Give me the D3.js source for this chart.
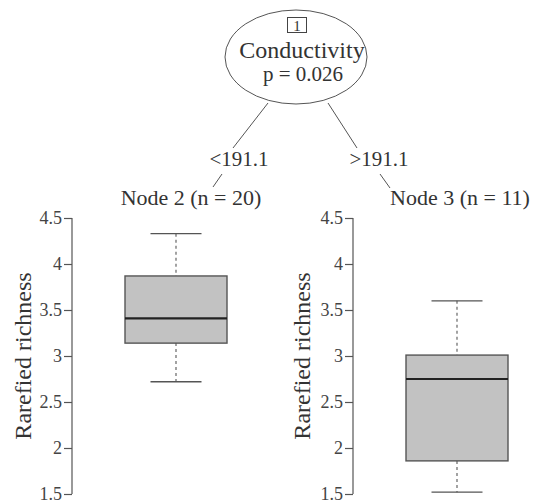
<!DOCTYPE html>
<html><head><meta charset="utf-8">
<script src="https://cdn.jsdelivr.net/npm/d3@7"></script>
<style>body{margin:0;background:#fff}svg{display:block}text{font-family:"Liberation Serif","Times New Roman",serif}</style>
</head><body>
<script>
// Data
const splitVariable = "Conductivity";
const splitP = "p = 0.026";
const splitLabels = ["<191.1", ">191.1"];
const nodeLabels = ["Node 2 (n = 20)", "Node 3 (n = 11)"];
const yTicks = [1.5, 2, 2.5, 3, 3.5, 4, 4.5];
const yLabel = "Rarefied richness";
// box stats: lower whisker, Q1, median, Q3, upper whisker
const node2Stats = [2.72, 3.14, 3.41, 3.87, 4.33];
const node3Stats = [1.52, 1.86, 2.75, 3.01, 3.60];

const W = 538, H = 504;
const svg = d3.select("body").append("svg").attr("width", W).attr("height", H);

const y = d3.scaleLinear().domain([1.5, 4.5]).range([494, 218]);

// Tree top
svg.append("ellipse").attr("cx", 296).attr("cy", 57).attr("rx", 71).attr("ry", 47)
  .attr("fill", "#fff").attr("stroke", "#555").attr("stroke-width", 1);
svg.append("rect").attr("x", 287.5).attr("y", 17.5).attr("width", 19).attr("height", 15)
  .attr("fill", "none").attr("stroke", "#444").attr("stroke-width", 1);
svg.append("text").attr("x", 297).attr("y", 30.5).attr("text-anchor", "middle")
  .attr("font-size", 15).attr("fill", "#333").text("1");
svg.append("text").attr("x", 302).attr("y", 58).attr("text-anchor", "middle")
  .attr("font-size", 24).attr("fill", "#333").text(splitVariable);
svg.append("text").attr("x", 303).attr("y", 81).attr("text-anchor", "middle")
  .attr("font-size", 21).attr("fill", "#333").text(splitP);

// edges
const edgeSegs = [
  [[268, 103], [233, 148]], [[222, 174], [213, 187]],
  [[328, 103], [357, 148]], [[380, 174], [390, 188]]
];
svg.selectAll("line.edge").data(edgeSegs).enter().append("line")
  .attr("x1", d => d[0][0]).attr("y1", d => d[0][1])
  .attr("x2", d => d[1][0]).attr("y2", d => d[1][1])
  .attr("stroke", "#555").attr("stroke-width", 1);

svg.selectAll("text.split").data(splitLabels).enter().append("text")
  .attr("x", (d, i) => i === 0 ? 239 : 379).attr("y", 166)
  .attr("text-anchor", "middle").attr("font-size", 21).attr("fill", "#333").text(d => d);

svg.selectAll("text.node").data(nodeLabels).enter().append("text")
  .attr("x", (d, i) => i === 0 ? 191 : 460).attr("y", 205)
  .attr("text-anchor", "middle").attr("font-size", 22).attr("fill", "#333").text(d => d);

// panels
const panels = [
  {axisX: 72, cx: 176, boxW: 102, capW: 51, labelX: 23, stats: node2Stats},
  {axisX: 353, cx: 457, boxW: 102, capW: 51, labelX: 302, stats: node3Stats}
];

panels.forEach(p => {
  const g = svg.append("g");
  const ax = g.append("g").attr("transform", `translate(${p.axisX},0)`)
    .call(d3.axisLeft(y).tickValues(yTicks).tickSize(8).tickPadding(2)
      .tickFormat(d => String(d)));
  ax.select(".domain").attr("stroke", "#555").attr("stroke-width", 1.2).attr("d", `M0,${y(1.5)}V${y(4.5)}`);
  ax.selectAll(".tick line").attr("stroke", "#555").attr("stroke-width", 1.2);
  ax.selectAll(".tick text").attr("font-size", 18).attr("fill", "#444")
    .attr("font-family", '"Liberation Serif","Times New Roman",serif');

  g.append("text").attr("transform", `translate(${p.labelX},${y(3)}) rotate(-90)`)
    .attr("text-anchor", "middle").attr("dy", "0.35em").attr("font-size", 24)
    .attr("fill", "#333").text(yLabel);

  const [lo, q1, med, q3, hi] = p.stats;
  // whiskers
  g.append("line").attr("x1", p.cx).attr("x2", p.cx).attr("y1", y(hi)).attr("y2", y(q3))
    .attr("stroke", "#666").attr("stroke-width", 1.2).attr("stroke-dasharray", "3,3");
  g.append("line").attr("x1", p.cx).attr("x2", p.cx).attr("y1", y(q1)).attr("y2", y(lo))
    .attr("stroke", "#666").attr("stroke-width", 1.2).attr("stroke-dasharray", "3,3");
  [lo, hi].forEach(v => g.append("line")
    .attr("x1", p.cx - p.capW / 2).attr("x2", p.cx + p.capW / 2)
    .attr("y1", y(v)).attr("y2", y(v)).attr("stroke", "#555").attr("stroke-width", 1.3));
  g.append("rect").attr("x", p.cx - p.boxW / 2).attr("width", p.boxW)
    .attr("y", y(q3)).attr("height", y(q1) - y(q3))
    .attr("fill", "#c2c2c2").attr("stroke", "#555").attr("stroke-width", 1.4);
  g.append("line").attr("x1", p.cx - p.boxW / 2).attr("x2", p.cx + p.boxW / 2)
    .attr("y1", y(med)).attr("y2", y(med)).attr("stroke", "#222").attr("stroke-width", 2.2);
});
</script>
</body></html>
